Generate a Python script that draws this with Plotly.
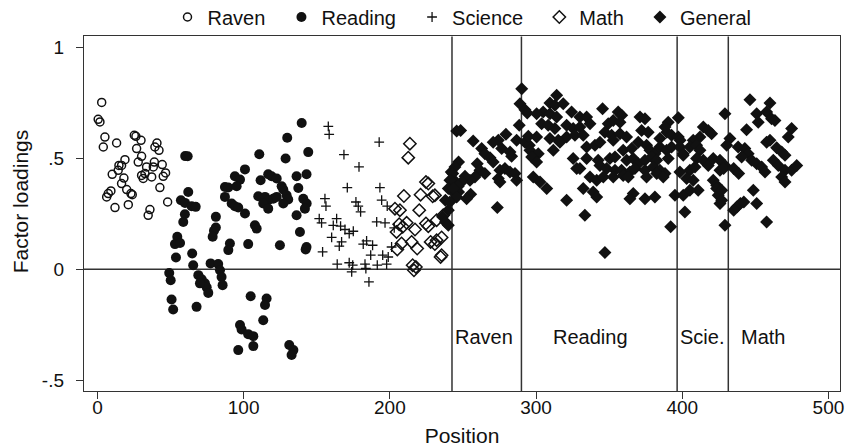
import plotly.graph_objects as go

# ---------------- data ----------------
raven_x = [2.9, 0.5, 1.7, 5.1, 4, 13.1, 25.2, 26.3, 29.8, 26.8, 40.7, 39.3, 42.1, 30.2, 18.8,
           14.7, 16.5, 27.9, 38.9, 44.3, 38.2, 14.2, 10.1, 33.6, 32.5, 30.2, 37.1, 31.3, 46.6, 45,
           18.1, 16.5, 42.7, 20, 22.9, 23.8, 9.2, 7.4, 6.3, 12, 21.1, 35.9, 34.7, 48]
raven_y = [0.752, 0.676, 0.664, 0.596, 0.551, 0.569, 0.604, 0.599, 0.581, 0.544, 0.569, 0.551, 0.536, 0.509, 0.494,
           0.468, 0.468, 0.483, 0.483, 0.472, 0.461, 0.446, 0.428, 0.461, 0.431, 0.423, 0.416, 0.409, 0.434, 0.419,
           0.411, 0.386, 0.368, 0.359, 0.341, 0.336, 0.353, 0.341, 0.326, 0.278, 0.291, 0.269, 0.243, 0.303]

reading_x = [60, 61.7, 62.1, 57.1, 59.9, 64.4, 67.2, 59.8, 58.7,
             139.7, 129.8, 110.7, 128.7, 144.2, 100.9, 94, 97.5, 87.2, 89.5, 95.2, 87.2, 91.8, 94, 96.3,
             111.6, 116.8, 119.1, 122.6, 136.2, 143, 126, 127.1, 137.4, 110, 114.6, 116.8, 120.2, 122.6,
             129.4, 130.5, 113.4, 116.8, 127.1, 140.8, 143.1, 141.9, 136.2, 138.5, 107.7, 108.9, 100.9,
             81, 81, 79.7, 78.8, 54.6, 53, 90.6, 103.1, 124.8, 143,
             56.5, 89.5, 142.4, 53.7, 64.8, 65.5, 77.4, 82.6, 83.8, 49.1, 50.1, 69, 71.3, 73.5, 74.7,
             75.8, 70.1, 84.9, 85.6, 50.7, 51.8, 67.8, 104.8, 115.7, 114.6, 113.4, 97.5, 98.6, 103.1,
             106.6, 96.3, 106.6, 131.2, 134, 132.8]
reading_y = [0.51, 0.509, 0.348, 0.311, 0.299, 0.284, 0.281, 0.248, 0.213,
             0.659, 0.593, 0.518, 0.499, 0.528, 0.450, 0.419, 0.404, 0.371, 0.368, 0.374, 0.326, 0.296, 0.284, 0.278,
             0.401, 0.428, 0.419, 0.409, 0.419, 0.428, 0.374, 0.359, 0.366, 0.329, 0.326, 0.311, 0.318, 0.326,
             0.333, 0.314, 0.296, 0.273, 0.296, 0.318, 0.296, 0.273, 0.243, 0.168, 0.198, 0.183, 0.251,
             0.236, 0.188, 0.173, 0.146, 0.146, 0.113, 0.116, 0.113, 0.108, 0.100,
             0.118, 0.086, 0.089, 0.053, 0.071, 0.018, 0.026, 0.023, -0.005, -0.017, -0.05, -0.027, -0.046, -0.064, -0.082,
             -0.107, -0.064, -0.035, -0.072, -0.137, -0.182, -0.17, -0.122, -0.132, -0.162, -0.23, -0.252, -0.272, -0.293,
             -0.302, -0.365, -0.347, -0.342, -0.365, -0.387]

science_x = [157.9, 158.5, 192.7, 168.6, 178.9, 170.9, 193.2, 155.6, 156.3, 176.8, 178.4, 180, 194.4, 198.2,
             151.7, 153.3, 163.6, 161.3, 166.3, 169.3, 172.2, 175, 191, 196.7, 160.2, 167, 165.4, 181.8,
             184.1, 188.2, 186.9, 154, 195.1, 198.9, 201.2, 164, 172.2, 174.6, 173.9, 183, 183.6, 191.4,
             197.8, 185.7, 203]
science_y = [0.644, 0.608, 0.573, 0.517, 0.461, 0.368, 0.368, 0.318, 0.284, 0.303, 0.284, 0.258, 0.311, 0.284,
             0.228, 0.209, 0.228, 0.198, 0.194, 0.179, 0.161, 0.171, 0.213, 0.209, 0.143, 0.123, 0.104, 0.113,
             0.128, 0.108, 0.063, 0.078, 0.063, 0.055, 0.1, 0.023, 0.029, 0.018, -0.012, 0.023, 0.003, 0.018,
             0.023, -0.057, 0.186]

math_x = [213.7, 212.6, 224.7, 226.3, 209.6, 221, 229.3, 230.8, 203.5, 206.9, 220.1, 211.5, 206.4, 208.8,
          217.2, 224.7, 226.3, 232, 204.6, 208, 205.1, 214.9, 218.7, 227.9, 232, 235.4, 230.8, 234.7,
          215.6, 217.8, 216.5, 236.5, 235.4]
math_y = [0.566, 0.503, 0.393, 0.386, 0.33, 0.336, 0.329, 0.333, 0.273, 0.266, 0.266, 0.209, 0.203, 0.191,
          0.179, 0.206, 0.194, 0.221, 0.168, 0.116, 0.089, 0.123, 0.093, 0.123, 0.131, 0.143, 0.113, 0.055,
          0.018, 0.01, -0.005, 0.243, 0.063]

general_x = [245.7, 247, 242, 244, 242, 247, 238, 240, 236, 238,
             290.2, 289, 292.4, 294, 288.5, 248.4, 257, 279.4, 274.2, 270.7, 286.7, 292.4, 295.4, 276.5, 282.2,
             283.3, 262.8, 265, 268.5, 270.7, 244.5, 259.8, 261.6, 265, 258.2, 254.8, 251.4, 249.1, 246.8, 243,
             241.1, 240, 243.4, 275.3, 278.7, 282.2, 285.6, 286.7, 274.2, 275.3, 255.3, 252.5, 245.7, 241.1, 240, 273.5,
             314.1, 309.5, 312.9, 318.6, 304.9, 300.4, 309.5, 314.1, 324.3, 330, 334.6, 303.8, 308.3, 312.9, 320.9,
             325.4, 330, 294.7, 300.4, 309.5, 315.2, 320.9, 326.6, 332.3, 295.8, 301.5, 311.8, 316.3, 334.6, 297,
             300.4, 325.4, 327.8, 298.1, 302.7, 307.3, 332.3, 320.9, 333.4,
             345.5, 356.2, 358.6, 371.1, 374.5, 336.9, 349.4, 352.8, 357.4, 390.4, 397.3, 429.2, 347.1, 351.7, 357.4,
             361.9, 372.2, 376.7, 384.7, 389.4, 388.2, 392.7, 397.3, 398.5, 414.4, 417.8, 420.1, 412.1, 407.5, 340.3,
             343.7, 352.8, 359.6, 365.4, 369.9, 375.6, 377.9, 381.3, 384.7, 389.3, 392.7, 398.4, 400.7, 405.2, 409.8,
             412.1, 334.6, 342.5, 350.5, 354, 362, 366.5, 369.9, 374.5, 379.1, 382.5, 390.4, 400.7, 409.8, 414.4,
             417.8, 421.2, 425.8, 429.2, 330, 343.7, 348.3, 354, 358.5, 364.2, 367.6, 374.5, 380.2, 384.7, 388.2,
             398.4, 405.2, 408.7, 336.9, 341.5, 346, 352.8, 359.6, 363.1, 375.6, 382.5, 387, 403, 407.5, 421.2,
             423.5, 425.8, 339.1, 341.5, 366.5, 364.2, 374.5, 381.3, 395, 400.7, 405.2, 410.9, 423.5, 424.6, 425.8,
             401.8, 392.1, 429.2, 347.1,
             446.3, 460, 450.9, 457.7, 461.1, 463.4, 452, 474.8, 472.5, 444, 432.6, 430.4, 457.7, 460, 464.6,
             468, 470.3, 438.2, 442.8, 445.1, 440.6, 447.5, 450.9, 454.3, 456.6, 462.3, 465.7, 470.3, 474.8,
             478.3, 468, 470.3, 428.3, 435.2, 438.6, 427, 427, 448.6, 450.9, 435.2, 437.5, 439.8, 442.1, 457.7]
general_y = [0.623, 0.483, 0.438, 0.401, 0.356, 0.348, 0.311, 0.266, 0.236, 0.213,
             0.814, 0.746, 0.719, 0.704, 0.649, 0.626, 0.578, 0.608, 0.581, 0.573, 0.581, 0.573, 0.559, 0.544, 0.528,
             0.509, 0.544, 0.521, 0.503, 0.483, 0.461, 0.476, 0.446, 0.431, 0.416, 0.401, 0.419, 0.393, 0.374, 0.431,
             0.401, 0.364, 0.364, 0.446, 0.454, 0.438, 0.431, 0.401, 0.409, 0.393, 0.338, 0.318, 0.326, 0.303, 0.198, 0.278,
             0.784, 0.749, 0.739, 0.746, 0.709, 0.701, 0.701, 0.686, 0.709, 0.686, 0.686, 0.656, 0.649, 0.634, 0.649,
             0.634, 0.641, 0.6, 0.596, 0.589, 0.581, 0.596, 0.604, 0.604, 0.536, 0.521, 0.536, 0.573, 0.551, 0.506,
             0.483, 0.499, 0.454, 0.416, 0.393, 0.364, 0.364, 0.311, 0.243,
             0.724, 0.709, 0.694, 0.686, 0.679, 0.656, 0.656, 0.671, 0.663, 0.663, 0.683, 0.701, 0.618, 0.604, 0.611,
             0.596, 0.626, 0.618, 0.589, 0.618, 0.641, 0.604, 0.596, 0.581, 0.641, 0.626, 0.611, 0.596, 0.581, 0.559,
             0.573, 0.581, 0.536, 0.544, 0.573, 0.559, 0.536, 0.521, 0.551, 0.536, 0.551, 0.551, 0.521, 0.551, 0.559,
             0.536, 0.499, 0.491, 0.499, 0.506, 0.491, 0.499, 0.476, 0.491, 0.506, 0.491, 0.499, 0.514, 0.499, 0.491,
             0.468, 0.499, 0.491, 0.468, 0.454, 0.468, 0.454, 0.446, 0.446, 0.438, 0.454, 0.446, 0.461, 0.446, 0.431,
             0.438, 0.446, 0.461, 0.416, 0.401, 0.416, 0.416, 0.423, 0.416, 0.416, 0.431, 0.416, 0.409, 0.401, 0.401,
             0.378, 0.446, 0.348, 0.326, 0.341, 0.318, 0.318, 0.326, 0.333, 0.333, 0.356, 0.356, 0.364, 0.333, 0.296,
             0.258, 0.191, 0.198, 0.075,
             0.764, 0.749, 0.701, 0.709, 0.679, 0.671, 0.663, 0.634, 0.596, 0.629, 0.589, 0.559, 0.573, 0.581, 0.548,
             0.528, 0.514, 0.551, 0.544, 0.521, 0.506, 0.491, 0.476, 0.461, 0.438, 0.491, 0.468, 0.446, 0.446,
             0.468, 0.416, 0.393, 0.454, 0.454, 0.431, 0.356, 0.311, 0.356, 0.296, 0.266, 0.281, 0.296, 0.303, 0.213]

x_ticks = [0, 100, 200, 300, 400, 500]
y_ticks = [-0.5, 0, 0.5, 1]
y_tick_labels = ["-.5", "0", ".5", "1"]

section_bounds = [242.5, 290, 396.5, 431.5]
section_labels = ["Raven", "Reading", "Scie.", "Math"]
section_label_x = [264.5, 337.2, 413.8, 455.5]
section_label_y = -0.306

# ---------------- figure ----------------
FONT = "Liberation Sans, Arial, Helvetica, sans-serif"
INK = "#111111"
PAD = "\u00a0\u00a0"  # extra legend spacing between entries

fig = go.Figure()
fig.add_trace(go.Scatter(x=raven_x, y=raven_y, mode="markers", name="Raven" + PAD,
                         marker=dict(symbol="circle-open", size=8, color=INK, line=dict(width=1.5, color=INK))))
fig.add_trace(go.Scatter(x=reading_x, y=reading_y, mode="markers", name="Reading" + PAD,
                         marker=dict(symbol="circle", size=10, color=INK, line=dict(width=0))))
fig.add_trace(go.Scatter(x=science_x, y=science_y, mode="markers", name="Science" + PAD,
                         marker=dict(symbol="cross-thin", size=7, color=INK, line=dict(width=1.3, color=INK))))
fig.add_trace(go.Scatter(x=math_x, y=math_y, mode="markers", name="Math" + PAD,
                         marker=dict(symbol="diamond-open", size=9.5, color=INK, line=dict(width=1.5, color=INK))))
fig.add_trace(go.Scatter(x=general_x, y=general_y, mode="markers", name="General",
                         marker=dict(symbol="diamond", size=10, color=INK, line=dict(width=0))))

shapes = []
for b in section_bounds:
    shapes.append(dict(type="line", xref="x", yref="paper", x0=b, x1=b, y0=0, y1=1,
                       line=dict(color="#333333", width=1.5), layer="below"))
shapes.append(dict(type="line", xref="paper", yref="y", x0=0, x1=1, y0=0, y1=0,
                   line=dict(color="#333333", width=1.5), layer="below"))

annotations = []
for lbl, lx in zip(section_labels, section_label_x):
    annotations.append(dict(x=lx, y=section_label_y, xref="x", yref="y", text=lbl, showarrow=False,
                            xanchor="center", yanchor="middle", font=dict(family=FONT, size=20, color=INK)))
# y-axis title
annotations.append(dict(x=-0.0847, y=0.535, xref="paper", yref="paper", text="Factor loadings",
                        textangle=-90, showarrow=False, xanchor="center", yanchor="middle",
                        font=dict(family=FONT, size=21, color=INK)))

axis_common = dict(showgrid=False, zeroline=False, showline=True, linecolor="#333333", linewidth=1.3,
                   mirror=True, ticks="outside", ticklen=7, tickwidth=1.3, tickcolor="#333333",
                   tickfont=dict(family=FONT, size=19, color=INK), automargin=False,
                   ticklabeloverflow="allow")

fig.update_layout(
    width=845, height=447,
    margin=dict(l=84, r=5, t=36, b=56),
    paper_bgcolor="white", plot_bgcolor="white",
    font=dict(family=FONT, size=20, color=INK),
    showlegend=True,
    legend=dict(orientation="h", x=0.5, xanchor="center", yref="container", y=0.962, yanchor="middle",
                font=dict(family=FONT, size=20, color=INK), bgcolor="rgba(0,0,0,0)", itemclick=False),
    xaxis=dict(range=[-9.2, 507.9], tickvals=x_ticks, ticklabelstandoff=-8,
               title=dict(text="Position", font=dict(family=FONT, size=21, color=INK), standoff=14),
               **axis_common),
    yaxis=dict(range=[-0.5495, 1.0495], tickvals=y_ticks, ticktext=y_tick_labels, ticklabelstandoff=8,
               **axis_common),
    shapes=shapes,
    annotations=annotations,
)

# remove the default 8px page margin so the 845x447 figure fills the window exactly
fig.write_html("out.html",
               config={"displayModeBar": False},
               post_script="document.body.style.margin='0px';"
                           "document.documentElement.style.overflow='hidden';")
